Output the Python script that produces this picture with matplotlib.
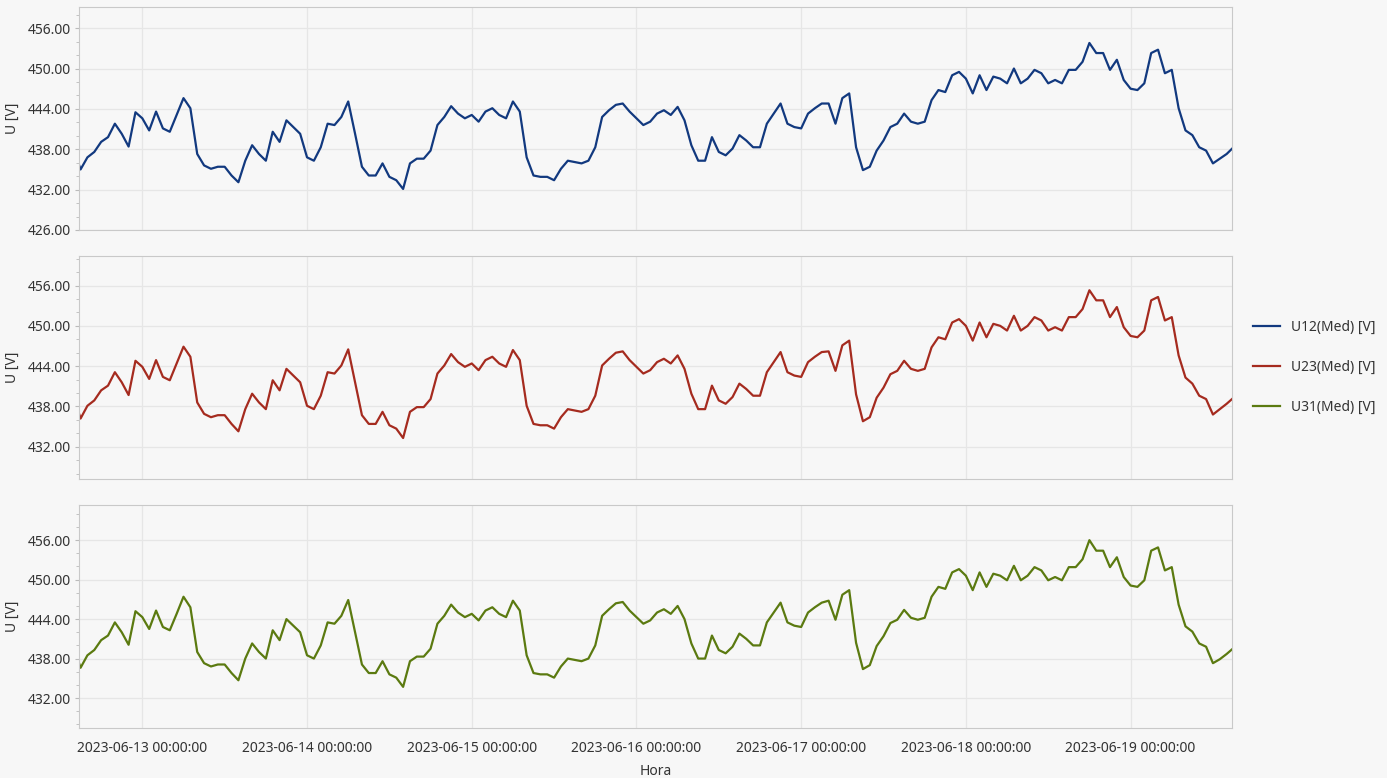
import matplotlib
matplotlib.use("Agg")
import matplotlib.pyplot as plt
import matplotlib.dates as mdates
from matplotlib.ticker import MultipleLocator, FormatStrFormatter
import pandas as pd

plt.rcParams['font.family'] = ['Noto Sans', 'DejaVu Sans']

# hourly readings, 2023-06-12 14:00 .. 2023-06-19 15:00
hora = pd.date_range('2023-06-12 14:00', '2023-06-19 15:00', freq='h')

u12 = [438.0, 435.0, 436.8, 437.6, 439.1, 439.8, 441.8, 440.3, 438.4, 443.5,
       442.6, 440.8, 443.6, 441.1, 440.6, 443.1, 445.6, 444.1, 437.3, 435.6,
       435.1, 435.4, 435.4, 434.1, 433.1, 436.3, 438.6, 437.3, 436.3, 440.6,
       439.1, 442.3, 441.3, 440.3, 436.8, 436.3, 438.3, 441.8, 441.6, 442.8,
       445.1, 440.3, 435.4, 434.1, 434.1, 435.9, 433.9, 433.4, 432.1, 435.9,
       436.6, 436.6, 437.8, 441.6, 442.8, 444.4, 443.3, 442.6, 443.1, 442.1,
       443.6, 444.1, 443.1, 442.6, 445.1, 443.6, 436.8, 434.1, 433.9, 433.9,
       433.4, 435.1, 436.3, 436.1, 435.9, 436.3, 438.3, 442.8, 443.8, 444.6,
       444.8, 443.6, 442.6, 441.6, 442.1, 443.3, 443.8, 443.1, 444.3, 442.3,
       438.6, 436.3, 436.3, 439.8, 437.6, 437.1, 438.1, 440.1, 439.3, 438.3,
       438.3, 441.8, 443.3, 444.8, 441.8, 441.3, 441.1, 443.3, 444.1, 444.8,
       444.8, 441.8, 445.6, 446.3, 438.3, 434.9, 435.4, 437.8, 439.3, 441.3,
       441.8, 443.3, 442.1, 441.8, 442.1, 445.3, 446.8, 446.5, 449.0, 449.5,
       448.5, 446.3, 449.0, 446.8, 448.8, 448.5, 447.8, 450.0, 447.8, 448.5,
       449.8, 449.3, 447.8, 448.3, 447.8, 449.8, 449.8, 451.0, 453.8, 452.3,
       452.3, 449.8, 451.3, 448.3, 447.0, 446.8, 447.8, 452.3, 452.8, 449.3,
       449.8, 444.1, 440.8, 440.1, 438.3, 437.8, 435.9, 436.6, 437.3, 438.3]

u23 = [439.5, 436.2, 438.1, 438.9, 440.4, 441.1, 443.1, 441.6, 439.7, 444.8,
       443.9, 442.1, 444.9, 442.4, 441.9, 444.4, 446.9, 445.4, 438.6, 436.9,
       436.4, 436.7, 436.7, 435.4, 434.3, 437.6, 439.9, 438.6, 437.6, 441.9,
       440.4, 443.6, 442.6, 441.6, 438.1, 437.6, 439.6, 443.1, 442.9, 444.1,
       446.5, 441.6, 436.7, 435.4, 435.4, 437.2, 435.2, 434.7, 433.3, 437.2,
       437.9, 437.9, 439.1, 442.9, 444.1, 445.8, 444.6, 443.9, 444.4, 443.4,
       444.9, 445.4, 444.4, 443.9, 446.4, 444.9, 438.1, 435.4, 435.2, 435.2,
       434.7, 436.4, 437.6, 437.4, 437.2, 437.6, 439.6, 444.1, 445.1, 446.0,
       446.2, 444.9, 443.9, 442.9, 443.4, 444.6, 445.1, 444.4, 445.6, 443.6,
       439.9, 437.6, 437.6, 441.1, 438.9, 438.4, 439.4, 441.4, 440.6, 439.6,
       439.6, 443.1, 444.6, 446.1, 443.1, 442.6, 442.4, 444.6, 445.4, 446.1,
       446.2, 443.3, 447.1, 447.8, 439.8, 435.8, 436.4, 439.3, 440.8, 442.8,
       443.3, 444.8, 443.6, 443.3, 443.6, 446.8, 448.3, 448.0, 450.5, 451.0,
       450.0, 447.8, 450.5, 448.3, 450.3, 450.0, 449.3, 451.5, 449.3, 450.0,
       451.3, 450.8, 449.3, 449.8, 449.3, 451.3, 451.3, 452.5, 455.3, 453.8,
       453.8, 451.3, 452.8, 449.8, 448.5, 448.3, 449.3, 453.8, 454.3, 450.8,
       451.3, 445.6, 442.3, 441.4, 439.6, 439.1, 436.8, 437.6, 438.4, 439.3]

u31 = [439.8, 436.6, 438.5, 439.3, 440.8, 441.5, 443.5, 442.0, 440.1, 445.2,
       444.3, 442.5, 445.3, 442.8, 442.3, 444.8, 447.4, 445.8, 439.0, 437.3,
       436.8, 437.1, 437.1, 435.8, 434.7, 438.0, 440.3, 439.0, 438.0, 442.3,
       440.8, 444.0, 443.0, 442.0, 438.5, 438.0, 440.0, 443.5, 443.3, 444.5,
       446.9, 442.0, 437.1, 435.8, 435.8, 437.6, 435.6, 435.1, 433.7, 437.6,
       438.3, 438.3, 439.5, 443.3, 444.5, 446.2, 445.0, 444.3, 444.8, 443.8,
       445.3, 445.8, 444.8, 444.3, 446.8, 445.3, 438.5, 435.8, 435.6, 435.6,
       435.1, 436.8, 438.0, 437.8, 437.6, 438.0, 440.0, 444.5, 445.5, 446.4,
       446.6, 445.3, 444.3, 443.3, 443.8, 445.0, 445.5, 444.8, 446.0, 444.0,
       440.3, 438.0, 438.0, 441.5, 439.3, 438.8, 439.8, 441.8, 441.0, 440.0,
       440.0, 443.5, 445.0, 446.5, 443.5, 443.0, 442.8, 445.0, 445.8, 446.5,
       446.8, 443.9, 447.7, 448.4, 440.4, 436.4, 437.0, 439.9, 441.4, 443.4,
       443.9, 445.4, 444.2, 443.9, 444.2, 447.4, 448.9, 448.6, 451.1, 451.6,
       450.6, 448.4, 451.1, 448.9, 450.9, 450.6, 449.9, 452.1, 449.9, 450.6,
       451.9, 451.4, 449.9, 450.4, 449.9, 451.9, 451.9, 453.1, 456.0, 454.4,
       454.4, 451.9, 453.4, 450.4, 449.1, 448.9, 449.9, 454.4, 454.9, 451.4,
       451.9, 446.2, 442.9, 442.1, 440.3, 439.8, 437.3, 437.9, 438.7, 439.6]

series = [u12, u23, u31]
labels = ['U12(Med) [V]', 'U23(Med) [V]', 'U31(Med) [V]']
colors = ['#12397f', '#a52b1f', '#5b7a10']
ylims = [(426, 459.1), (427.2, 460.4), (427.4, 461.3)]
yticks = [list(range(426, 457, 6)), list(range(432, 457, 6)), list(range(432, 457, 6))]

bg = '#f7f7f7'
fig = plt.figure(figsize=(13.87, 7.78), dpi=100, facecolor=bg)

W, H = 1387, 778
left, right = 79.3, 1231.7
tops = [7.3, 256, 505.3]
bots = [230, 479, 728.3]

xmin = pd.Timestamp('2023-06-12 14:49')
xmax = pd.Timestamp('2023-06-19 14:44')

handles = []
axes = []
for i in range(3):
    ax = fig.add_axes([left / W, 1 - bots[i] / H, (right - left) / W, (bots[i] - tops[i]) / H])
    ax.set_facecolor(bg)
    ln, = ax.plot(hora, series[i], color=colors[i], lw=1.6)
    handles.append(ln)
    ax.set_xlim(xmin, xmax)
    ax.set_ylim(*ylims[i])
    ax.set_yticks(yticks[i])
    ax.yaxis.set_minor_locator(MultipleLocator(2))
    ax.yaxis.set_major_formatter(FormatStrFormatter('%.2f'))
    ax.xaxis.set_major_locator(mdates.DayLocator())
    ax.xaxis.set_major_formatter(mdates.DateFormatter('%Y-%m-%d %H:%M:%S'))
    ax.grid(True, color='#e6e6e6', lw=0.9)
    ax.set_axisbelow(True)
    for s in ax.spines.values():
        s.set_color('#c9c9c9')
    ax.tick_params(axis='y', which='major', length=3, color='#bbbbbb', labelsize=10,
                   labelcolor='#333333', pad=3)
    ax.tick_params(axis='y', which='minor', length=2, color='#bbbbbb')
    ax.tick_params(axis='x', length=0, labelsize=10, labelcolor='#333333', pad=9)
    ax.set_ylabel('U [V]', fontsize=10, color='#333333')
    ax.yaxis.set_label_coords(-0.052, 0.5)
    if i < 2:
        ax.tick_params(axis='x', labelbottom=False)
    axes.append(ax)

axes[2].set_xlabel('Hora', fontsize=10, color='#333333', labelpad=6)

fig.legend(handles, labels, loc='center left', bbox_to_anchor=(1240 / W, 1 - 367 / H),
           frameon=False, fontsize=10, labelspacing=1.8, handlelength=2.0,
           handletextpad=0.8, labelcolor='#333333')

fig.savefig('out.png', dpi=100, facecolor=bg)
